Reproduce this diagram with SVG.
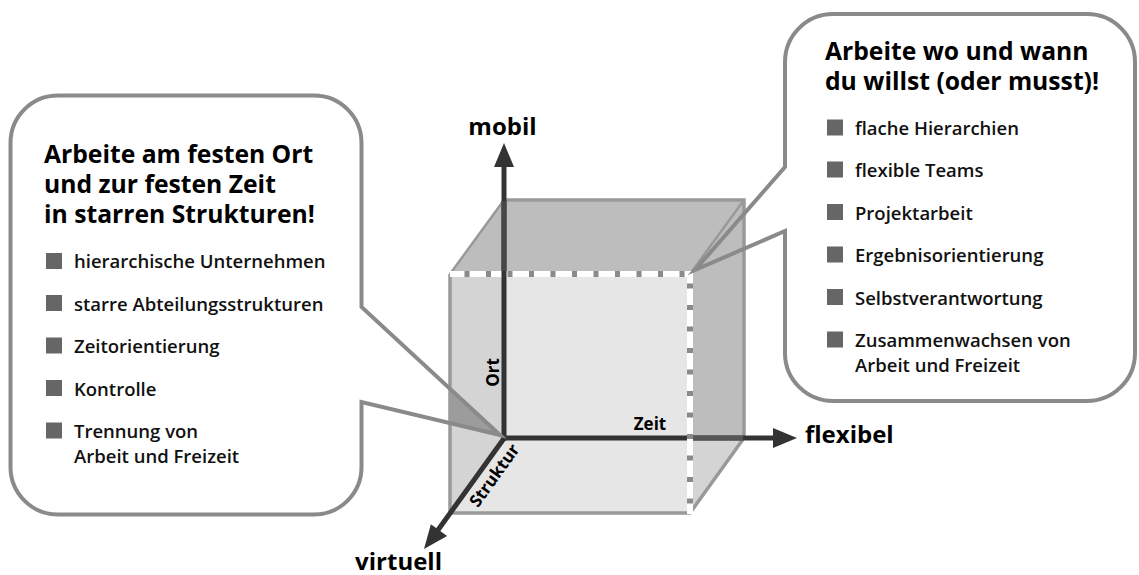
<svg xmlns="http://www.w3.org/2000/svg" width="1139" height="575" viewBox="0 0 1139 575">
<style>
.title{font-family:"Open Sans","Liberation Sans",sans-serif;font-weight:700;font-size:24.7px;fill:#000}
.item{font-family:"Open Sans","Liberation Sans",sans-serif;font-weight:600;font-size:18.5px;fill:#111}
.axis-end{font-family:"Open Sans","Liberation Sans",sans-serif;font-weight:700;font-size:24px;fill:#000}
.axis-lbl{font-family:"Open Sans","Liberation Sans",sans-serif;font-weight:700;font-size:17px;fill:#000}
.bullet{fill:#666}
.callout{fill:none;stroke:#8a8a8a;stroke-width:4;stroke-linejoin:miter;stroke-miterlimit:10}
.edge{fill:none;stroke:#999;stroke-width:3.5}
.edge-thin{fill:none;stroke:#999;stroke-width:2.5}
.dash-w{stroke:#fff;stroke-width:6}
.dash-g{stroke:#8a8a8a;stroke-width:6;stroke-dasharray:5 16.5}
.axis{stroke:#333;stroke-width:5;fill:none}
.head{fill:#333}
</style>
<rect x="0" y="0" width="1139" height="575" fill="#fff"/>

<g id="cube">
  <rect x="450" y="274" width="240" height="239" fill="#e6e6e6"/>
  <polygon points="450,274 504,200 504,438 450,513" fill="#d4d4d4"/>
  <polygon points="690,438 744,438 690,513" fill="#d4d4d4"/>
  <polygon points="504,200 744,200 744,438 690,438 690,274 450,274" fill="#bdbdbd"/>
  <path class="edge" d="M450,274 V513 H690 L744,438 V200 H504"/>
  <path class="edge-thin" d="M450,274 L504,200 M744,200 L690,274"/>
  <line class="dash-w" x1="450" y1="274" x2="693" y2="274"/>
  <line class="dash-g" x1="450" y1="274" x2="690" y2="274" stroke-dashoffset="7"/>
</g>

<g id="connectors">
  <line class="axis" x1="504" y1="440.5" x2="504" y2="164"/>
  <polygon class="head" points="504,143 494,167 514,167"/>
  <line class="axis" x1="501.5" y1="438" x2="777" y2="438"/>
  <polygon class="head" points="797,438 773,428 773,448"/>
  <line class="axis" x1="505" y1="437" x2="438" y2="530"/>
  <polygon class="head" points="424,549 447.1,535.9 430.9,524.2"/>
  <line stroke="#474747" stroke-width="5" x1="504" y1="201" x2="504" y2="271"/>
  <line stroke="#565656" stroke-width="5" x1="693" y1="438" x2="743" y2="438"/>
  <line class="dash-w" x1="690" y1="271" x2="690" y2="514"/>
  <line class="dash-g" x1="690" y1="274" x2="690" y2="513" stroke-dashoffset="12"/>
</g>

<g id="callout-left">
  <polygon points="450,388 500,435 450,423" fill="#9c9c9c"/>
  <path class="callout" d="M58,95.5 H314 A47.5,47.5 0 0 1 361.5,143 V307 L500,435 L361.5,402 V467 A47.5,47.5 0 0 1 314,514.5 H58 A47.5,47.5 0 0 1 10.5,467 V143 A47.5,47.5 0 0 1 58,95.5 Z"/>
  <text class="title" x="44" y="163">Arbeite am festen Ort</text>
  <text class="title" x="44" y="193">und zur festen Zeit</text>
  <text class="title" x="44" y="223">in starren Strukturen!</text>
  <rect class="bullet" x="46" y="253" width="16" height="16"/>
  <text class="item" x="74" y="268">hierarchische Unternehmen</text>
  <rect class="bullet" x="46" y="295" width="16" height="16"/>
  <text class="item" x="74" y="310.5">starre Abteilungsstrukturen</text>
  <rect class="bullet" x="46" y="337.5" width="16" height="16"/>
  <text class="item" x="74" y="353">Zeitorientierung</text>
  <rect class="bullet" x="46" y="380" width="16" height="16"/>
  <text class="item" x="74" y="396">Kontrolle</text>
  <rect class="bullet" x="46" y="422.5" width="16" height="16"/>
  <text class="item" x="74" y="438">Trennung von</text>
  <text class="item" x="74" y="463">Arbeit und Freizeit</text>
</g>

<g id="callout-right">
  <path class="callout" d="M833,14 H1087 A48,48 0 0 1 1135,62 V353 A48,48 0 0 1 1087,401 H833 A48,48 0 0 1 785,353 V231 L695,270 L785,167 V62 A48,48 0 0 1 833,14 Z"/>
  <text class="title" x="825" y="60">Arbeite wo und wann</text>
  <text class="title" x="825" y="90">du willst (oder musst)!</text>
  <rect class="bullet" x="827" y="119.5" width="16" height="16"/>
  <text class="item" x="855" y="135">flache Hierarchien</text>
  <rect class="bullet" x="827" y="161.5" width="16" height="16"/>
  <text class="item" x="855" y="177">flexible Teams</text>
  <rect class="bullet" x="827" y="204" width="16" height="16"/>
  <text class="item" x="855" y="219.5">Projektarbeit</text>
  <rect class="bullet" x="827" y="246.5" width="16" height="16"/>
  <text class="item" x="855" y="262">Ergebnisorientierung</text>
  <rect class="bullet" x="827" y="289" width="16" height="16"/>
  <text class="item" x="855" y="304.5">Selbstverantwortung</text>
  <rect class="bullet" x="827" y="331.5" width="16" height="16"/>
  <text class="item" x="855" y="347">Zusammenwachsen von</text>
  <text class="item" x="855" y="372">Arbeit und Freizeit</text>
</g>

<g id="labels">
  <text class="axis-end" x="502.5" y="135" text-anchor="middle">mobil</text>
  <text class="axis-end" x="805" y="443">flexibel</text>
  <text class="axis-end" x="442" y="569.5" text-anchor="end">virtuell</text>
  <text class="axis-lbl" transform="translate(499,372.5) rotate(-90)" text-anchor="middle">Ort</text>
  <text class="axis-lbl" x="650" y="430" text-anchor="middle">Zeit</text>
  <text class="axis-lbl" transform="translate(499.2,478.9) rotate(-54.3)" text-anchor="middle">Struktur</text>
</g>
</svg>
